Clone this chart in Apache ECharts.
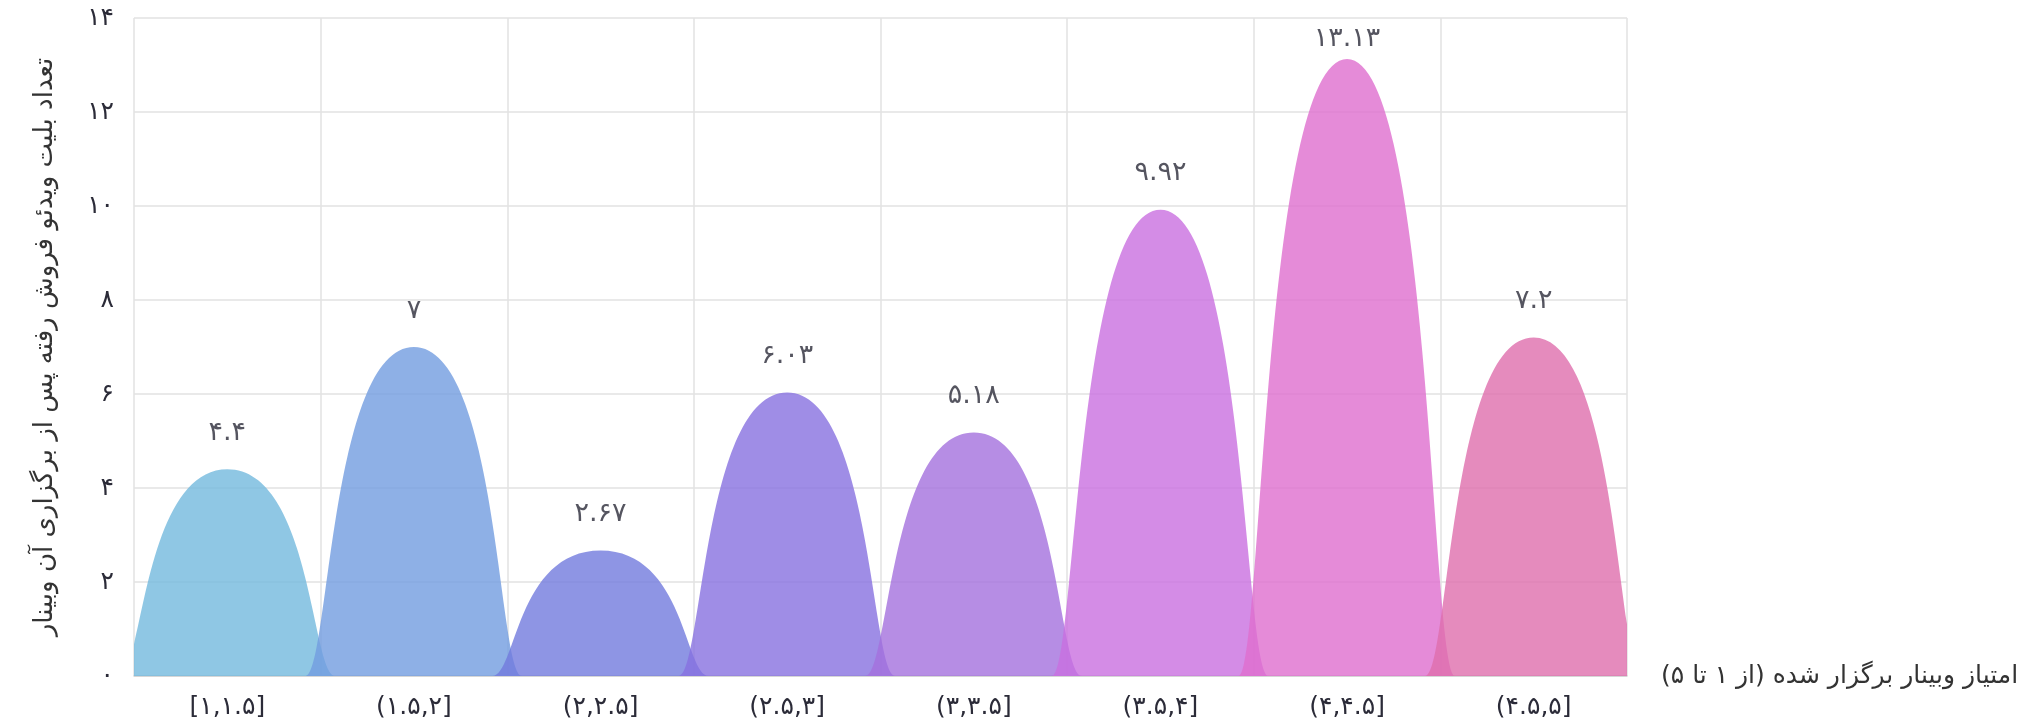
<!DOCTYPE html>
<html>
<head>
<meta charset="utf-8">
<script src="https://cdn.jsdelivr.net/npm/echarts@6/dist/echarts.min.js"></script>
<style>
html,body{margin:0;padding:0;background:#fff;}
#chart{width:2029px;height:724px;}
</style>
</head>
<body>
<div id="chart"></div>
<script>
var categories = ['[۱,۱.۵]', '(۱.۵,۲]', '(۲,۲.۵]', '(۲.۵,۳]', '(۳,۳.۵]', '(۳.۵,۴]', '(۴,۴.۵]', '(۴.۵,۵]'];
var values = [4.4, 7, 2.67, 6.03, 5.18, 9.92, 13.13, 7.2];
var colors = ['#73b9dd', '#729ce0', '#727add', '#8770e0', '#a470dd', '#c96fe0', '#de6ece', '#de6eac'];
var yTicks = [0, 2, 4, 6, 8, 10, 12, 14];
var xAxisName = '\u200Fامتیاز وبینار برگزار شده (از ۱ تا ۵)\u200F';
var yAxisName = 'تعداد بلیت ویدئو فروش رفته پس از برگزاری آن وبینار';

function fa(v) {
  return String(v).replace(/[0-9]/g, function (d) { return '۰۱۲۳۴۵۶۷۸۹'[+d]; });
}

var FONT = 'DejaVu Sans';
var yMax = yTicks[yTicks.length - 1];
var chart = echarts.init(document.getElementById('chart'), null, {renderer: 'canvas'});
chart.setOption({
  backgroundColor: '#ffffff',
  animation: false,
  textStyle: {fontFamily: FONT},
  grid: {left: 134, right: 402, top: 18, bottom: 48},
  xAxis: {
    type: 'category',
    data: categories,
    name: xAxisName,
    nameLocation: 'end',
    nameGap: 34,
    nameTextStyle: {fontSize: 25, color: '#333', fontFamily: FONT, verticalAlign: 'middle'},
    axisLine: {show: true, lineStyle: {color: '#cfcfcf', width: 1.5}},
    axisTick: {show: false},
    axisLabel: {fontSize: 25, color: '#2b2b38', margin: 19, fontFamily: FONT},
    splitLine: {show: true, lineStyle: {color: '#e2e2e2', width: 1.5}}
  },
  yAxis: {
    type: 'value',
    min: yTicks[0],
    max: yMax,
    interval: 2,
    name: yAxisName,
    nameLocation: 'middle',
    nameGap: 76,
    nameRotate: 90,
    nameTextStyle: {fontSize: 26, color: '#333', fontFamily: FONT},
    axisLine: {show: false},
    axisTick: {show: false},
    axisLabel: {fontSize: 25, color: '#2b2b38', margin: 20, fontFamily: FONT, formatter: function (v) { return fa(v); }},
    splitLine: {show: true, lineStyle: {color: '#e2e2e2', width: 1.5}}
  },
  series: [{
    type: 'pictorialBar',
    clip: true,
    barCategoryGap: '-16%',
    symbol: 'path://M0,10 C1.1,10 1.1,0 5,0 C8.9,0 8.9,10 10,10 Z',
    symbolSize: ['100%', '100%'],
    label: {
      show: true,
      position: 'top',
      distance: 23,
      fontSize: 27,
      color: '#2b2b38',
      fontFamily: FONT,
      formatter: function (p) { return fa(p.value); }
    },
    data: values.map(function (v, i) {
      var item = {value: v, itemStyle: {color: colors[i], opacity: 0.8}};
      if (v > yMax - 1.5) { item.label = {distance: 6}; }
      return item;
    }),
    z: 10
  }]
});
</script>
</body>
</html>
